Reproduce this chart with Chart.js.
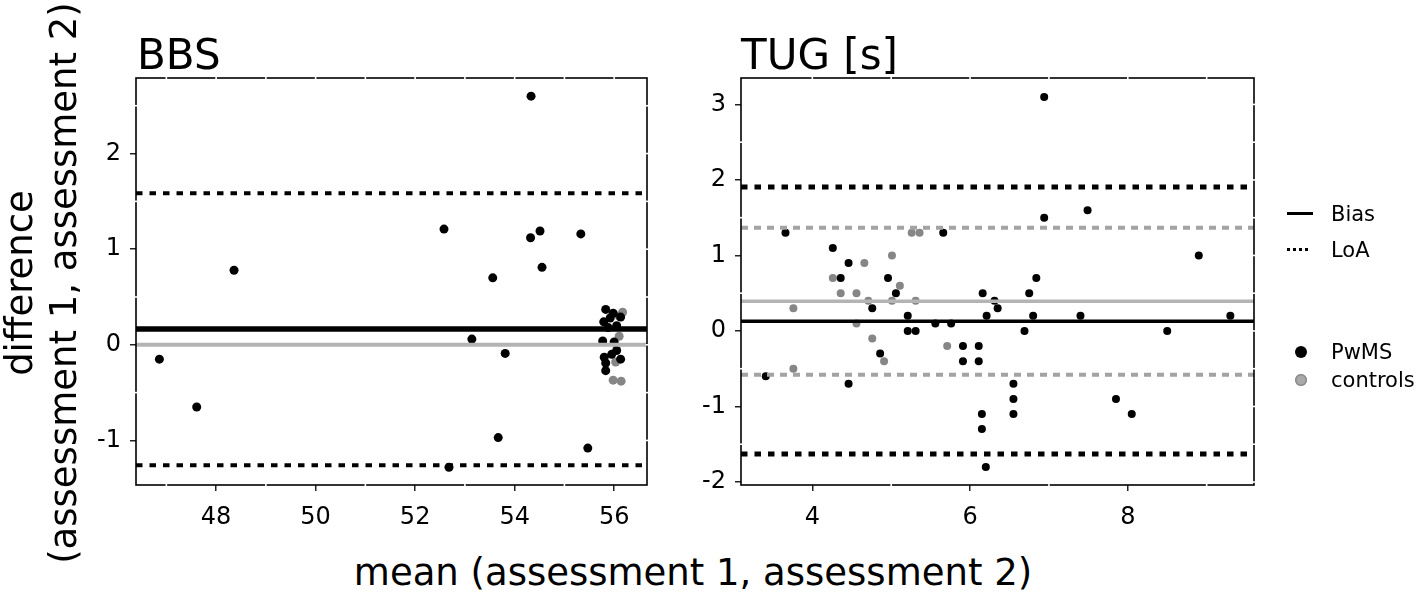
<!DOCTYPE html>
<html><head><meta charset="utf-8">
<script src="https://cdn.jsdelivr.net/npm/chart.js@4.4.1/dist/chart.umd.min.js"></script>
<style>
html,body{margin:0;padding:0;background:#fff;}
body{width:1417px;height:595px;position:relative;overflow:hidden;font-family:'DejaVu Sans',sans-serif;color:#000;}
.abs{position:absolute;white-space:nowrap;line-height:1;}
canvas{position:absolute;top:0;}
</style></head><body>
<canvas id="bbs" width="700" height="540" style="left:0px"></canvas>
<canvas id="tug" width="717" height="540" style="left:700px"></canvas>

<div class="abs" style="left:137px;top:34px;font-size:42px">BBS</div>
<div class="abs" style="left:741px;top:34px;font-size:42px">TUG [s]</div>
<div class="abs" style="left:0;width:1386px;text-align:center;top:554px;font-size:37px">mean (assessment 1, assessment 2)</div>
<div class="abs" style="left:-268px;top:239px;width:620px;height:88px;line-height:44px;text-align:center;font-size:37px;transform:rotate(-90deg);">difference<br>(assessment 1, assessment 2)</div>

<div class="abs" style="left:1287px;top:212px;width:26px;height:3px;background:#000"></div>
<div class="abs" style="left:1331px;top:204px;font-size:21px">Bias</div>
<div class="abs" style="left:1287px;top:248px;width:24px;height:3px;background:repeating-linear-gradient(90deg,#000 0 3px,transparent 3px 6px)"></div>
<div class="abs" style="left:1331px;top:240px;font-size:21px">LoA</div>
<div class="abs" style="left:1295px;top:346px;width:12px;height:12px;border-radius:50%;background:#000"></div>
<div class="abs" style="left:1331px;top:342px;font-size:21px">PwMS</div>
<div class="abs" style="left:1295px;top:374px;width:12px;height:12px;border-radius:50%;background:#a9a9a9;box-shadow:inset 0 0 0 1.5px #8c8c8c"></div>
<div class="abs" style="left:1331px;top:370px;font-size:21px">controls</div>

<script>
// ---------------- DATA ----------------
// BBS panel
const bbsPwmsMean = [54.33,52.58,54.32,54.51,55.33,48.36,53.56,54.55,53.14,53.81,46.86,47.61,53.67,55.47,52.68,
  55.83,55.98,56.13,55.79,55.88,55.77,56.00,56.05,55.80,56.13,55.83,55.83,55.92,56.05,55.95];
const bbsPwmsDiff = [2.60,1.21,1.12,1.19,1.16,0.78,0.70,0.81,0.06,-0.09,-0.15,-0.65,-0.97,-1.08,-1.28,
  0.37,0.33,0.29,0.24,0.18,0.04,0.03,-0.06,-0.13,-0.15,-0.19,-0.27,0.28,0.20,-0.10];
const bbsCtrlMean = [56.17,56.10,56.03,55.98,56.14,56.10];
const bbsCtrlDiff = [0.34,0.09,-0.18,-0.37,-0.38,0.30];
const bbsPwmsBias = 0.164;
const bbsPwmsLoA = [1.584,-1.259];
const bbsCtrlBias = 0.0;
const bbsXTicks = [48,50,52,54,56];
const bbsYTicks = [-1,0,1,2];
const bbsXRange = [46.39,56.66];
const bbsYRange = [-1.466,2.79];

// TUG panel
const tugPwmsMean = [6.94,6.94,7.49,3.66,5.66,4.26,4.46,8.90,4.36,4.96,6.84,5.06,6.16,6.75,4.76,6.31,6.35,5.21,6.21,6.80,
  7.40,9.30,5.56,5.76,5.21,5.31,6.69,8.50,5.91,6.11,5.91,6.11,4.86,3.41,4.46,6.55,6.55,6.55,6.15,6.15,6.20,7.85,8.05];
const tugPwmsDiff = [3.1,1.5,1.6,1.3,1.3,1.1,0.9,1.0,0.7,0.7,0.7,0.5,0.5,0.5,0.3,0.4,0.3,0.2,0.2,0.2,
  0.2,0.2,0.1,0.1,0.0,0.0,0.0,0.0,-0.2,-0.2,-0.4,-0.4,-0.3,-0.6,-0.7,-0.7,-0.9,-1.1,-1.1,-1.3,-1.8,-0.9,-1.1];
const tugCtrlMean = [3.76,3.76,4.26,4.36,4.56,4.66,4.71,4.56,4.76,4.91,5.01,5.01,5.11,5.26,5.36,5.31,5.71];
const tugCtrlDiff = [0.3,-0.5,0.7,0.5,0.5,0.9,0.4,0.1,-0.1,-0.4,1.0,0.4,0.6,1.3,1.3,0.4,-0.2];
const tugPwmsBias = 0.128;
const tugPwmsLoA = [1.907,-1.63];
const tugCtrlBias = 0.393;
const tugCtrlLoA = [1.368,-0.58];
const tugXTicks = [4,6,8];
const tugYTicks = [-2,-1,0,1,2,3];
const tugXRange = [3.096,9.60];
const tugYRange = [-2.04,3.35];

// ---------------- DRAWING ----------------
const BLACK = '#000000', PT_GRAY = '#868686', LINE_GRAY = '#b4b4b4', DASH_GRAY = '#a3a3a3';
const FONT = "'DejaVu Sans', sans-serif";

function pts(xs, ys){ return xs.map((x,i)=>({x, y: ys[i]})); }
function hline(y, xr, color, width, dash){
  return {type:'scatter', data:[{x:xr[0],y},{x:xr[1],y}], showLine:true, borderColor:color, borderWidth:width,
    borderDash:dash||[], borderCapStyle:'butt', pointRadius:0, pointHoverRadius:0, order:0, clip:false};
}
function scat(xs, ys, color, r){
  return {type:'scatter', data:pts(xs,ys), backgroundColor:color, borderColor:color, borderWidth:0,
    pointRadius:r, pointHoverRadius:r, order:1};
}
function minorVals(ticks, range){
  const step = ticks[1]-ticks[0], half = step/2, out = [];
  for(let v = ticks[0]-half*Math.ceil((ticks[0]-range[0])/half); v <= range[1]+1e-9; v += half){
    if (v >= range[0]-1e-9) out.push(+v.toFixed(6));
  }
  return out;
}
const framePlugin = {
  id:'frame',
  afterDatasetsDraw(chart, args, opts){
    const {ctx, chartArea:a, scales} = chart;
    ctx.save();
    ctx.strokeStyle = '#000'; ctx.lineWidth = 1.6;
    ctx.strokeRect(a.left, a.top, a.right-a.left, a.bottom-a.top);
    ctx.strokeStyle = '#fff'; ctx.lineWidth = 1.6;
    const seg=(x1,y1,x2,y2)=>{ctx.beginPath();ctx.moveTo(x1,y1);ctx.lineTo(x2,y2);ctx.stroke();};
    const xt = opts.xTicks, yt = opts.yTicks;
    minorVals(xt, opts.xRange).forEach(v=>{
      const p = scales.x.getPixelForValue(v);
      if (p <= a.left+2 || p >= a.right-2) return;
      seg(p, a.top-1.5, p, a.top+1.5);
      if (!xt.includes(v)) seg(p, a.bottom-1.5, p, a.bottom+1.5);
    });
    minorVals(yt, opts.yRange).forEach(v=>{
      const p = scales.y.getPixelForValue(v);
      if (p <= a.top+2 || p >= a.bottom-2) return;
      seg(a.right-1.5, p, a.right+1.5, p);
      if (!yt.includes(v)) seg(a.left-1.5, p, a.left+1.5, p);
    });
    ctx.restore();
  }
};

function makeChart(id, datasets, xr, yr, xt, yt, yWidth, padRight){
  return new Chart(document.getElementById(id), {
    type:'scatter',
    data:{datasets},
    options:{
      responsive:false, animation:false, devicePixelRatio:1,
      layout:{padding:{left:0, top:78, right:padRight, bottom:0}},
      plugins:{legend:{display:false}, tooltip:{enabled:false}, title:{display:false},
        frame:{xTicks:xt, yTicks:yt, xRange:xr, yRange:yr}},
      scales:{
        x:{type:'linear', min:xr[0], max:xr[1],
          afterBuildTicks:s=>{s.ticks = xt.map(v=>({value:v}));},
          afterFit:s=>{s.height = 55;},
          ticks:{font:{family:FONT,size:24}, color:'#000', padding:12, maxRotation:0, autoSkip:false,
            callback:v=>String(v)},
          grid:{display:true, drawOnChartArea:false, drawTicks:true, tickLength:6, color:'#222', lineWidth:1.5},
          border:{display:false}},
        y:{type:'linear', min:yr[0], max:yr[1],
          afterBuildTicks:s=>{s.ticks = yt.map(v=>({value:v}));},
          afterFit:s=>{s.width = yWidth;},
          ticks:{font:{family:FONT,size:24}, color:'#000', padding:9, autoSkip:false,
            callback:v=>String(v)},
          grid:{display:true, drawOnChartArea:false, drawTicks:true, tickLength:6, color:'#222', lineWidth:1.5},
          border:{display:false}}
      }
    },
    plugins:[framePlugin]
  });
}

makeChart('bbs', [
  hline(bbsPwmsLoA[0], bbsXRange, BLACK, 4, [6.5,7]),
  hline(bbsPwmsLoA[1], bbsXRange, BLACK, 4, [6.5,7]),
  hline(bbsCtrlBias, bbsXRange, LINE_GRAY, 4),
  hline(bbsPwmsBias, bbsXRange, BLACK, 5.5),
  scat(bbsPwmsMean, bbsPwmsDiff, BLACK, 4.5),
  scat(bbsCtrlMean, bbsCtrlDiff, PT_GRAY, 4.5)
], bbsXRange, bbsYRange, bbsXTicks, bbsYTicks, 136, 53);

makeChart('tug', [
  hline(tugPwmsLoA[0], tugXRange, BLACK, 5, [6.5,7]),
  hline(tugPwmsLoA[1], tugXRange, BLACK, 5, [6.5,7]),
  hline(tugCtrlLoA[0], tugXRange, DASH_GRAY, 4, [7,6]),
  hline(tugCtrlLoA[1], tugXRange, DASH_GRAY, 4, [7,6]),
  hline(tugCtrlBias, tugXRange, LINE_GRAY, 3.5),
  hline(tugPwmsBias, tugXRange, BLACK, 3.5),
  scat(tugPwmsMean, tugPwmsDiff, BLACK, 4),
  scat(tugCtrlMean, tugCtrlDiff, PT_GRAY, 4)
], tugXRange, tugYRange, tugXTicks, tugYTicks, 41, 163);
</script>
</body></html>
